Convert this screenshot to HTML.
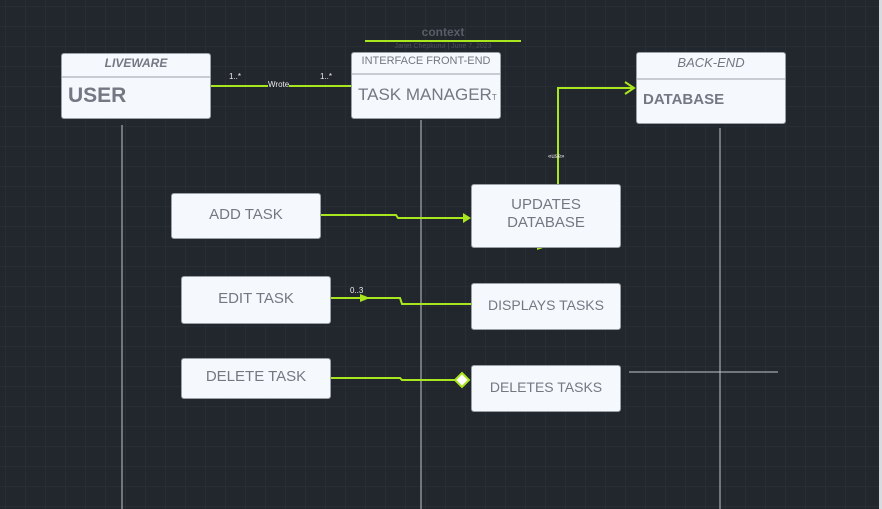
<!DOCTYPE html>
<html><head><style>
body{margin:0;width:882px;height:509px;overflow:hidden;background:#22262d;font-family:"Liberation Sans",sans-serif;}
.grid{position:absolute;left:0;top:0;width:882px;height:509px;background-image:linear-gradient(#292d34 1px,transparent 1px),linear-gradient(90deg,#292d34 1px,transparent 1px);background-size:20px 20px;background-position:5px 6px;}
.b{position:absolute;background:#f5f9fd;border:1px solid #9aa0a8;border-radius:3px;box-sizing:border-box;color:#737883;text-align:center;display:flex;align-items:center;justify-content:center;font-size:15px;padding-bottom:4px;}
.c{position:absolute;background:#f5f9fd;border:1px solid #9aa0a8;border-radius:3px;box-sizing:border-box;color:#737883;}
.h{border-bottom:2px solid #c8ccd2;text-align:center;}
.t{position:absolute;color:#eee;font-size:8px;}
</style></head><body>
<div class="grid"></div>
<div style="position:absolute;right:0;top:0;width:3px;height:509px;background:#d8dce0"></div>
<svg width="882" height="509" style="position:absolute;left:0;top:0">
<g stroke="#c0c4ca" stroke-width="1"><line x1="122" y1="125" x2="122" y2="509"/><line x1="421" y1="120" x2="421" y2="509"/><line x1="720" y1="128" x2="720" y2="509"/><line x1="629" y1="372" x2="778" y2="372"/></g>
<g stroke="#a8e61e" stroke-width="2" fill="none">
<line x1="365" y1="41" x2="521" y2="41"/>
<line x1="211" y1="86" x2="351" y2="86"/>
<polyline points="558,184 558,88 634,88"/>
<polyline points="625,82 634,88 625,94"/>
<polyline points="320,215 396,215 398,218 463,218"/>
<polyline points="330,298 400,298 402,304 471,304"/>
<polyline points="330,378 400,378 402,380 455,380"/>
</g>
<g fill="#a8e61e"><polygon points="463,213 471,218 463,223"/><polygon points="537,244 546,247 537,250"/><polygon points="360,294 370,298 360,302"/></g>
<polygon points="462,373 469,380 462,387 455,380" fill="#fff" stroke="#a8e61e" stroke-width="2"/>
</svg>
<div style="position:absolute;left:365px;top:25px;width:156px;text-align:center;color:#585d66;font-weight:bold;font-size:12px">context</div>
<div style="position:absolute;left:365px;top:43px;width:156px;text-align:center;color:#4a4f58;font-size:7px">Janet Chepkurui | June 7, 2023</div>
<div class="t" style="left:229px;top:72px">1..*</div><div class="t" style="left:320px;top:72px">1..*</div>
<div class="t" style="left:268px;top:80px;background:#22262d;font-size:8px">Wrote</div>
<div class="t" style="left:548px;top:154px;font-size:6px">«use»</div>
<div class="t" style="left:350px;top:286px">0..3</div>
<div class="c" style="left:61px;top:53px;width:150px;height:66px"><div class="h" style="height:22px;font:italic bold 12px 'Liberation Sans';line-height:18px">LIVEWARE</div><div style="font-weight:bold;font-size:21px;padding:6px 0 0 6px">USER</div></div>
<div class="c" style="left:351px;top:52px;width:150px;height:67px"><div class="h" style="height:20px;font-size:11px;line-height:16px">INTERFACE FRONT-END</div><div style="font-size:17px;padding:10px 0 0 6px">TASK MANAGER<span style="font-size:8px">T</span></div></div>
<div class="c" style="left:636px;top:52px;width:150px;height:72px"><div class="h" style="height:25px;font:italic 13px 'Liberation Sans';line-height:20px">BACK-END</div><div style="font-weight:bold;font-size:15px;padding:11px 0 0 6px">DATABASE</div></div>
<div class="b" style="left:171px;top:193px;width:150px;height:46px">ADD TASK</div>
<div class="b" style="left:471px;top:184px;width:150px;height:64px;line-height:18px">UPDATES<br>DATABASE</div>
<div class="b" style="left:181px;top:276px;width:150px;height:48px">EDIT TASK</div>
<div class="b" style="left:471px;top:283px;width:150px;height:47px;font-size:14px">DISPLAYS TASKS</div>
<div class="b" style="left:181px;top:358px;width:150px;height:41px">DELETE TASK</div>
<div class="b" style="left:471px;top:365px;width:150px;height:47px;font-size:14px">DELETES TASKS</div>
</body></html>
